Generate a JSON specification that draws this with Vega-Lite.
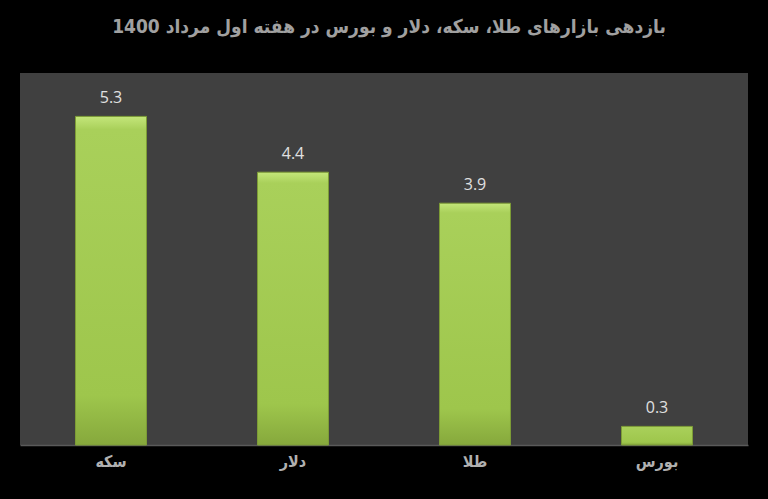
{
  "$schema": "https://vega.github.io/schema/vega-lite/v6.json",
  "width": 728,
  "height": 372,
  "autosize": {"type": "none"},
  "padding": {"left": 20, "top": 73, "right": 20, "bottom": 54},
  "background": "#000000",
  "title": {
    "text": "بازدهی بازارهای طلا، سکه، دلار و بورس در هفته اول مرداد 1400",
    "font": "DejaVu Sans Condensed",
    "fontSize": 19,
    "fontWeight": "bold",
    "color": "#a0a0a0",
    "anchor": "middle",
    "offset": 36,
    "dx": 5
  },
  "config": {
    "view": {"fill": "#404040", "stroke": null}
  },
  "data": {
    "values": [
      {"market": "سکه", "value": 5.3, "order": 1},
      {"market": "دلار", "value": 4.4, "order": 2},
      {"market": "طلا", "value": 3.9, "order": 3},
      {"market": "بورس", "value": 0.3, "order": 4}
    ]
  },
  "encoding": {
    "x": {
      "field": "market",
      "type": "nominal",
      "sort": {"field": "order"},
      "scale": {"paddingInner": 0.61, "paddingOuter": 0.305},
      "axis": {
        "title": null,
        "labelAngle": 0,
        "domain": true,
        "domainColor": "#5a5a5a",
        "domainWidth": 1.5,
        "ticks": false,
        "labelColor": "#b0b0b0",
        "labelFont": "DejaVu Sans Condensed",
        "labelFontSize": 16,
        "labelFontWeight": "bold",
        "labelPadding": 8
      }
    },
    "y": {
      "field": "value",
      "type": "quantitative",
      "scale": {"domain": [0, 6], "nice": false},
      "axis": null
    }
  },
  "layer": [
    {
      "mark": {
        "type": "bar",
        "stroke": "#7d9c36",
        "strokeWidth": 1,
        "fill": {
          "gradient": "linear",
          "x1": 0, "y1": 0, "x2": 0, "y2": 1,
          "stops": [
            {"offset": 0, "color": "#c4e67a"},
            {"offset": 0.04, "color": "#a9d05a"},
            {"offset": 0.85, "color": "#9ec64c"},
            {"offset": 1, "color": "#86a83c"}
          ]
        }
      }
    },
    {
      "mark": {
        "type": "text",
        "dy": -10,
        "baseline": "bottom",
        "font": "Open Sans",
        "fontSize": 16,
        "fill": "#e0e0e0"
      },
      "encoding": {
        "text": {"field": "value", "type": "quantitative", "format": ".1f"}
      }
    }
  ]
}
